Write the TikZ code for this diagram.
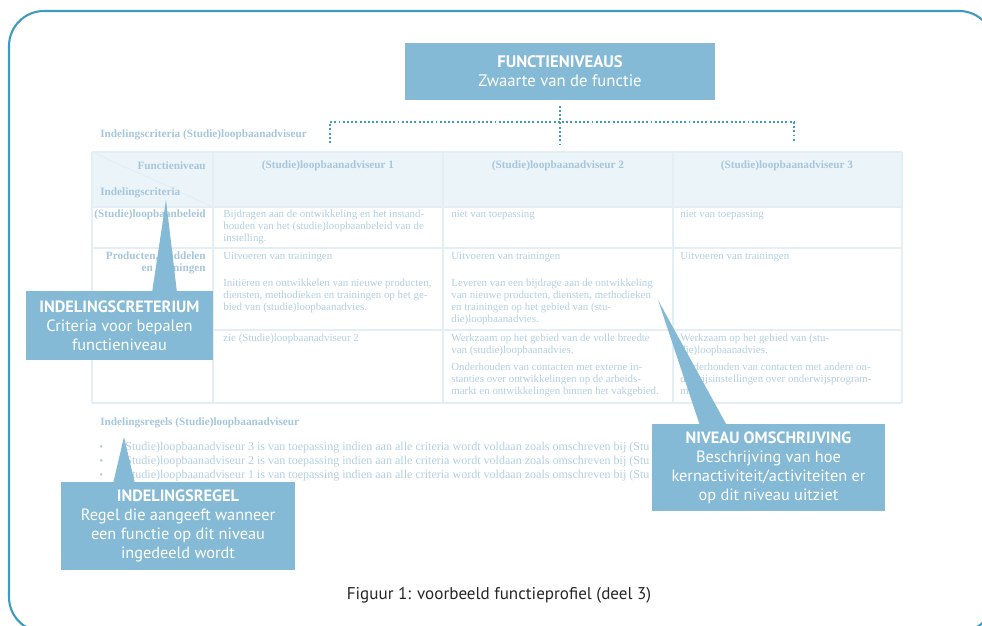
\documentclass[tikz,border=0pt]{standalone}
\usepackage{fontspec}
\setmainfont{PT Sans}
\newfontfamily\tablefont{Liberation Serif}
\usetikzlibrary{positioning,calc}
\definecolor{framecol}{HTML}{3D9BC0}
\definecolor{boxcol}{HTML}{84BAD5}
\definecolor{fadecol}{HTML}{B3CFE1}
\definecolor{fadehead}{HTML}{A6C6DC}
\definecolor{gridcol}{HTML}{E4EFF5}
\definecolor{headfill}{HTML}{EBF4F8}
\tikzset{
frame/.style={draw=framecol,line width=1.2pt,rounded corners=0.7cm},
levelbox/.style={fill=boxcol,text=white,align=center,minimum width=6.2cm,
minimum height=1.14cm,inner sep=0pt,font=\fontsize{9.5}{10.8}\selectfont},
callout/.style={fill=boxcol,text=white,align=center,inner sep=0pt,
font=\fontsize{9.3}{10.8}\selectfont},
pointer/.style={fill=boxcol},
levelline/.style={draw=framecol,line width=1.1pt,dash pattern=on 1.1pt off 1.3pt},
faded/.style={text=fadecol,inner sep=0pt,align=left,
font=\tablefont\fontsize{6.2}{6.8}\selectfont},
fadedhead/.style={faded,text=fadehead,font=\tablefont\bfseries\fontsize{6.4}{6.8}\selectfont},
fadedrule/.style={faded,font=\tablefont\fontsize{6.85}{6.8}\selectfont},
gridline/.style={draw=gridcol,line width=0.6pt},
caption/.style={text=black!85,font=\fontsize{9.7}{11}\selectfont}
}

\begin{document}
\begin{tikzpicture}[x=0.02cm,y=-0.02cm]
\useasboundingbox (0,0) rectangle (982,625);
\clip (0,0) rectangle (982,625);

\draw[frame] (9,11) rectangle (994,632);

% faded table in the background
\fill[headfill] (92,152) rectangle (902,207);
\foreach \yy in {152,207,248,330,403} \draw[gridline] (92,\yy) -- (902,\yy);
\foreach \xx in {92,213,443,673,902} \draw[gridline] (\xx,152) -- (\xx,403);
\draw[gridline] (92,152) -- (213,207);

\node[fadedhead,anchor=west] (crittitle) at (100,135) {Indelingscriteria (Studie)loopbaanadviseur};
\node[fadedhead,anchor=east] (hlevel) at (206,166) {Functieniveau};
\node[fadedhead,anchor=west] (hcrit) at (100,193) {Indelingscriteria};
\node[fadedhead] (head1) at (328,166) {(Studie)loopbaanadviseur 1};
\node[fadedhead] (head2) at (558,166) {(Studie)loopbaanadviseur 2};
\node[fadedhead] (head3) at (787,166) {(Studie)loopbaanadviseur 3};

\node[fadedhead,anchor=north east,align=right] (lab1) at (206,209.5) {(Studie)loopbaanbeleid};
\node[faded,anchor=north west] (r1c1) at (223,209.5) {Bijdragen aan de ontwikkeling en het instand-\\houden van het (studie)loopbaanbeleid van de\\instelling.};
\node[faded,anchor=north west] (r1c2) at (451,209.5) {niet van toepassing};
\node[faded,anchor=north west] (r1c3) at (680,209.5) {niet van toepassing};

\node[fadedhead,anchor=north east,align=right] (lab2) at (206,251.5) {Producten, middelen\\en trainingen};
\node[faded,anchor=north west] (r2c1) at (223,251.5) {Uitvoeren van trainingen\\[9pt]Initiëren en ontwikkelen van nieuwe producten,\\diensten, methodieken en trainingen op het ge-\\bied van (studie)loopbaanadvies.};
\node[faded,anchor=north west] (r2c2) at (451,251.5) {Uitvoeren van trainingen\\[9pt]Leveren van een bijdrage aan de ontwikkeling\\van nieuwe producten, diensten, methodieken\\en trainingen op het gebied van (stu-\\die)loopbaanadvies.};
\node[faded,anchor=north west] (r2c3) at (680,251.5) {Uitvoeren van trainingen};

\node[faded,anchor=north west] (r3c1) at (223,333.5) {zie (Studie)loopbaanadviseur 2};
\node[faded,anchor=north west] (r3c2) at (451,333.5) {Werkzaam op het gebied van de volle breedte\\van (studie)loopbaanadvies.\\[3pt]Onderhouden van contacten met externe in-\\stanties over ontwikkelingen op de arbeids-\\markt en ontwikkelingen binnen het vakgebied.};
\node[faded,anchor=north west] (r3c3) at (680,333.5) {Werkzaam op het gebied van (stu-\\die)loopbaanadvies.\\[3pt]Onderhouden van contacten met andere on-\\derwijsinstellingen over onderwijsprogram-\\ma's.};

\node[fadedhead,anchor=west] (ruletitle) at (100,423) {Indelingsregels (Studie)loopbaanadviseur};
\begin{scope}
\clip (90,435) rectangle (651,485);
\node[faded,anchor=west] (bul1) at (99,448) {\textbullet};
\node[faded,anchor=west] (bul2) at (99,462) {\textbullet};
\node[faded,anchor=west] (bul3) at (99,476) {\textbullet};
\node[fadedrule,anchor=west] (rule1) at (121,448) {(Studie)loopbaanadviseur 3 is van toepassing indien aan alle criteria wordt voldaan zoals omschreven bij (Stu};
\node[fadedrule,anchor=west] (rule2) at (121,462) {(Studie)loopbaanadviseur 2 is van toepassing indien aan alle criteria wordt voldaan zoals omschreven bij (Stu};
\node[fadedrule,anchor=west] (rule3) at (121,476) {(Studie)loopbaanadviseur 1 is van toepassing indien aan alle criteria wordt voldaan zoals omschreven bij (Stu};
\end{scope}

% function levels on top
\node[levelbox] (level) at (560,71.5) {\textbf{FUNCTIENIVEAUS}\\Zwaarte van de functie};
\coordinate (split) at (560,122);
\coordinate (lv1) at (330,143);
\coordinate (lv2) at (560,145);
\coordinate (lv3) at (794,142);
\draw[levelline,shorten <=3pt] (level.south) -- (split) -- (lv2);
\draw[levelline] (lv1) -- (lv1 |- split) -- (lv3 |- split) -- (lv3);

% callouts
\node[callout,minimum width=3.74cm,minimum height=1.38cm] (crit) at (119.5,325.5)
  {\textbf{INDELINGSCRETERIUM}\\Criteria voor bepalen\\functieniveau};
\node[callout,minimum width=4.68cm,minimum height=1.76cm] (rule) at (178,526)
  {\textbf{INDELINGSREGEL}\\Regel die aangeeft wanneer\\een functie op dit niveau\\ingedeeld wordt};
\node[callout,minimum width=4.66cm,minimum height=1.74cm] (desc) at (768.5,467.5)
  {\textbf{NIVEAU OMSCHRIJVING}\\Beschrijving van hoe\\kernactiviteit/activiteiten er\\op dit niveau uitziet};

\coordinate (crittip) at (166,200);
\coordinate (ruletip) at (124,437);
\coordinate (desctip) at (658,300);
\fill[pointer] ($(crit.north)+(32.5,2)$) -- (crittip) -- ($(crit.north)+(57.5,2)$) -- cycle;
\fill[pointer] ($(rule.north)+(-65,2)$) -- (ruletip) -- ($(rule.north)+(-43,2)$) -- cycle;
\fill[pointer] ($(desc.north)+(-68.5,2)$) -- (desctip) -- ($(desc.north)+(-41.5,2)$) -- cycle;

\node[caption] (cap) at (499,595) {Figuur 1: voorbeeld functieprofiel (deel 3)};

\end{tikzpicture}
\end{document}
